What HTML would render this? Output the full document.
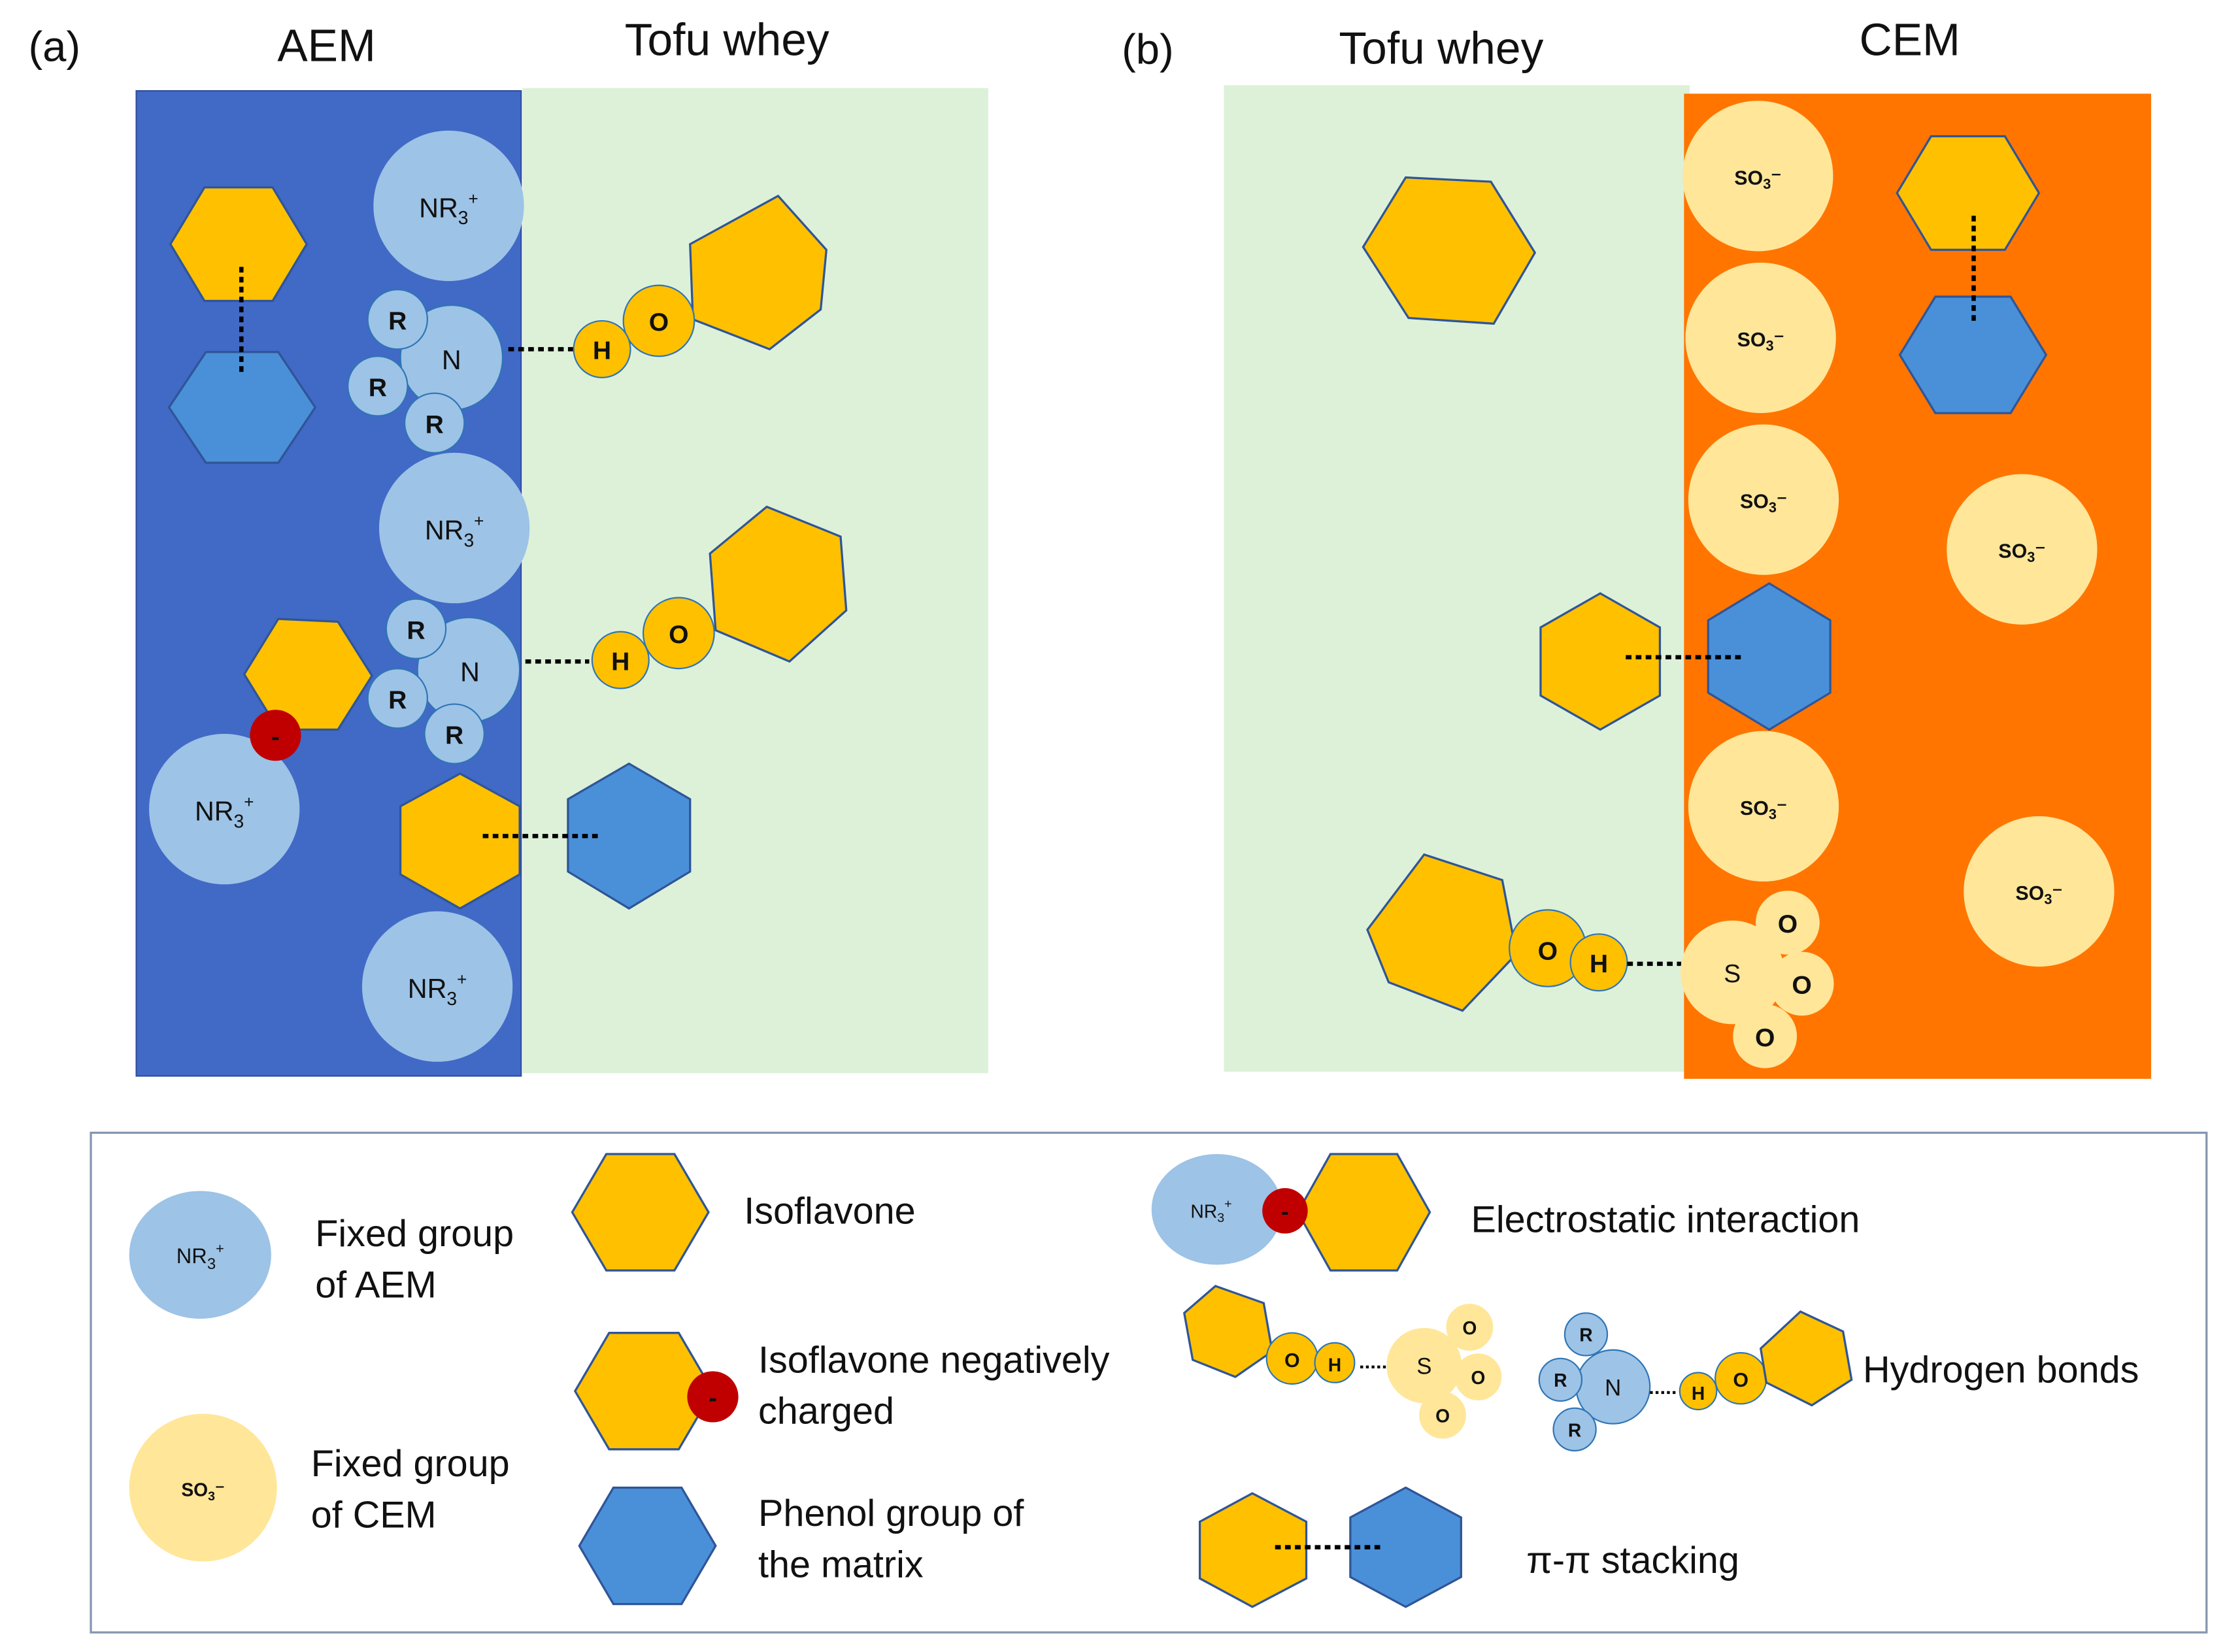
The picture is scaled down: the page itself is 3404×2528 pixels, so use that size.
<!DOCTYPE html>
<html><head><meta charset="utf-8"><style>
html,body{margin:0;padding:0;background:#fff;}
svg{display:block;}
text{font-family:"Liberation Sans",sans-serif;fill:#111;}
.iso{fill:#FFC000;stroke:#2F5597;stroke-width:1.5;}
.phe{fill:#4A90D9;stroke:#2F5597;stroke-width:1.5;}
.nr{fill:#9DC3E6;}
.so{fill:#FFE699;}
.sm{fill:#9DC3E6;stroke:#2E75B6;stroke-width:1;}
.ys{fill:#FFC000;stroke:#2E75B6;stroke-width:1;}
.ss{fill:#FFE699;stroke:#FFE699;stroke-width:1;}
.dot{stroke:#000;stroke-width:3;stroke-dasharray:4,3;fill:none;}
.b{font-weight:bold;}
.lg{font-size:26.5px;}
</style></head><body>
<svg width="3404" height="2528" viewBox="0 0 1567 1163.8" preserveAspectRatio="none" xmlns="http://www.w3.org/2000/svg">
<rect width="1567" height="1163.8" fill="#fff"/>
<!-- titles -->
<text x="20" y="43" font-size="30">(a)</text>
<text x="230" y="43" font-size="32" text-anchor="middle">AEM</text>
<text x="512" y="39" font-size="32" text-anchor="middle">Tofu whey</text>
<text x="790" y="45" font-size="30">(b)</text>
<text x="1015" y="45" font-size="32" text-anchor="middle">Tofu whey</text>
<text x="1345" y="39" font-size="32" text-anchor="middle">CEM</text>

<!-- panel a -->
<rect x="96" y="64" width="271" height="694" fill="#4169C6" stroke="#2F4F9F" stroke-width="1"/>
<rect x="368" y="62" width="328" height="694" fill="#DDF1D9"/>

<polygon class="iso" points="120,172 144,132 192,132 216,172 192,212 144,212"/>
<polygon class="phe" points="119,287 145,248 196,248 222,287 196,326 145,326"/>
<line class="dot" x1="170" y1="188" x2="170" y2="262"/>

<circle class="nr" cx="316" cy="145" r="53"/>
<text x="316" y="153" font-size="19" text-anchor="middle">NR<tspan font-size="13" dy="5">3</tspan><tspan font-size="12" dy="-14">+</tspan></text>
<circle class="nr" cx="320" cy="372" r="53"/>
<text x="320" y="380" font-size="19" text-anchor="middle">NR<tspan font-size="13" dy="5">3</tspan><tspan font-size="12" dy="-14">+</tspan></text>
<circle class="nr" cx="158" cy="570" r="53"/>
<text x="158" y="578" font-size="19" text-anchor="middle">NR<tspan font-size="13" dy="5">3</tspan><tspan font-size="12" dy="-14">+</tspan></text>
<circle class="nr" cx="308" cy="695" r="53"/>
<text x="308" y="703" font-size="19" text-anchor="middle">NR<tspan font-size="13" dy="5">3</tspan><tspan font-size="12" dy="-14">+</tspan></text>

<!-- cluster 1 -->
<ellipse class="sm" cx="318" cy="252" rx="36" ry="37" stroke="none"/>
<circle class="sm" cx="280" cy="225" r="21"/>
<circle class="sm" cx="266" cy="272" r="21"/>
<circle class="sm" cx="306" cy="298" r="21"/>
<text x="318" y="260" font-size="19" text-anchor="middle">N</text>
<text class="b" x="280" y="232" font-size="18" text-anchor="middle">R</text>
<text class="b" x="266" y="279" font-size="18" text-anchor="middle">R</text>
<text class="b" x="306" y="305" font-size="18" text-anchor="middle">R</text>
<line class="dot" x1="358" y1="246" x2="404" y2="246"/>
<polygon class="iso" points="486,172 548,138 582,176 578,218 542,246 488,225"/>
<circle class="ys" cx="464" cy="226" r="25"/>
<circle class="ys" cx="424" cy="246" r="20"/>
<text class="b" x="464" y="233" font-size="18" text-anchor="middle">O</text>
<text class="b" x="424" y="253" font-size="18" text-anchor="middle">H</text>

<!-- cluster 2 -->
<polygon class="iso" points="172,475 196,436 238,438 262,476 238,514 196,514"/>
<circle cx="194" cy="518" r="18" fill="#C00000"/>
<text class="b" x="194" y="525" font-size="18" text-anchor="middle">-</text>
<ellipse class="sm" cx="330" cy="472" rx="36" ry="37" stroke="none"/>
<circle class="sm" cx="293" cy="443" r="21"/>
<circle class="sm" cx="280" cy="492" r="21"/>
<circle class="sm" cx="320" cy="517" r="21"/>
<text x="331" y="480" font-size="19" text-anchor="middle">N</text>
<text class="b" x="293" y="450" font-size="18" text-anchor="middle">R</text>
<text class="b" x="280" y="499" font-size="18" text-anchor="middle">R</text>
<text class="b" x="320" y="524" font-size="18" text-anchor="middle">R</text>
<line class="dot" x1="370" y1="466" x2="415" y2="466"/>
<polygon class="iso" points="500,390 540,357 592,378 596,430 556,466 504,444"/>
<circle class="ys" cx="478" cy="446" r="25"/>
<circle class="ys" cx="437" cy="465" r="20"/>
<text class="b" x="478" y="453" font-size="18" text-anchor="middle">O</text>
<text class="b" x="437" y="472" font-size="18" text-anchor="middle">H</text>

<polygon class="iso" points="324,545 366,568 366,616 324,640 282,616 282,568"/>
<polygon class="phe" points="443,538 486,563 486,614 443,640 400,614 400,563"/>
<line class="dot" x1="340" y1="589" x2="423" y2="589"/>

<!-- panel b -->
<rect x="862" y="60" width="328" height="695" fill="#DDF1D9"/>
<rect x="1186" y="66" width="329" height="694" fill="#FF7500"/>

<polygon class="iso" points="960,174 990,125 1050,128 1081,178 1052,228 992,224"/>

<g font-size="14" class="b" text-anchor="middle">
<circle class="so" cx="1238" cy="124" r="53"/><text x="1238" y="130">SO<tspan font-size="10" dy="3">3</tspan><tspan dy="-3">⁻</tspan></text>
<circle class="so" cx="1240" cy="238" r="53"/><text x="1240" y="244">SO<tspan font-size="10" dy="3">3</tspan><tspan dy="-3">⁻</tspan></text>
<circle class="so" cx="1242" cy="352" r="53"/><text x="1242" y="358">SO<tspan font-size="10" dy="3">3</tspan><tspan dy="-3">⁻</tspan></text>
<circle class="so" cx="1424" cy="387" r="53"/><text x="1424" y="393">SO<tspan font-size="10" dy="3">3</tspan><tspan dy="-3">⁻</tspan></text>
<circle class="so" cx="1242" cy="568" r="53"/><text x="1242" y="574">SO<tspan font-size="10" dy="3">3</tspan><tspan dy="-3">⁻</tspan></text>
<circle class="so" cx="1436" cy="628" r="53"/><text x="1436" y="634">SO<tspan font-size="10" dy="3">3</tspan><tspan dy="-3">⁻</tspan></text>
</g>

<polygon class="iso" points="1336,136 1360,96 1412,96 1436,136 1412,176 1360,176"/>
<polygon class="phe" points="1338,250 1363,209 1416,209 1441,250 1416,291 1363,291"/>
<line class="dot" x1="1390" y1="152" x2="1390" y2="226"/>

<polygon class="iso" points="1127,418 1169,442 1169,490 1127,514 1085,490 1085,442"/>
<polygon class="phe" points="1246,411 1289,437 1289,488 1246,514 1203,488 1203,437"/>
<line class="dot" x1="1145" y1="463" x2="1228" y2="463"/>

<polygon class="iso" points="963,655 1003,602 1058,620 1068,672 1030,712 978,692"/>
<circle class="ys" cx="1090" cy="668" r="27"/>
<circle class="ys" cx="1126" cy="678" r="20"/>
<text class="b" x="1090" y="676" font-size="18" text-anchor="middle">O</text>
<text class="b" x="1126" y="685" font-size="18" text-anchor="middle">H</text>
<line class="dot" x1="1146" y1="679" x2="1184" y2="679"/>
<circle class="ss" cx="1220" cy="685" r="36"/>
<circle class="ss" cx="1259" cy="650" r="22"/>
<circle class="ss" cx="1269" cy="693" r="22"/>
<circle class="ss" cx="1243" cy="730" r="22"/>
<text x="1220" y="692" font-size="18" text-anchor="middle">S</text>
<text class="b" x="1259" y="657" font-size="18" text-anchor="middle">O</text>
<text class="b" x="1269" y="700" font-size="18" text-anchor="middle">O</text>
<text class="b" x="1243" y="737" font-size="18" text-anchor="middle">O</text>

<!-- legend -->
<rect x="64" y="798" width="1490" height="352" fill="#fff" stroke="#8497B0" stroke-width="1.5"/>
<ellipse class="nr" cx="141" cy="884" rx="50" ry="45"/>
<text x="141" y="890" font-size="15" text-anchor="middle">NR<tspan font-size="11" dy="4">3</tspan><tspan font-size="10" dy="-11">+</tspan></text>
<text class="lg" x="222" y="878">Fixed group</text>
<text class="lg" x="222" y="914">of AEM</text>
<circle class="so" cx="143" cy="1048" r="52"/>
<text class="b" x="143" y="1054" font-size="13" text-anchor="middle">SO<tspan font-size="9" dy="3">3</tspan><tspan dy="-3">⁻</tspan></text>
<text class="lg" x="219" y="1040">Fixed group</text>
<text class="lg" x="219" y="1076">of CEM</text>

<polygon class="iso" points="403,854 427,813 475,813 499,854 475,895 427,895"/>
<text class="lg" x="524" y="862">Isoflavone</text>
<polygon class="iso" points="405,980 429,939 478,939 502,980 478,1021 429,1021"/>
<circle cx="502" cy="984" r="18" fill="#C00000"/>
<text class="b" x="502" y="991" font-size="18" text-anchor="middle">-</text>
<text class="lg" x="534" y="967">Isoflavone negatively</text>
<text class="lg" x="534" y="1003">charged</text>
<polygon class="phe" points="408,1089 432,1048 480,1048 504,1089 480,1130 432,1130"/>
<text class="lg" x="534" y="1075">Phenol group of</text>
<text class="lg" x="534" y="1111">the matrix</text>

<ellipse class="nr" cx="857" cy="852" rx="46" ry="39"/>
<text x="853" y="858" font-size="13" text-anchor="middle">NR<tspan font-size="9" dy="3">3</tspan><tspan font-size="9" dy="-10">+</tspan></text>
<polygon class="iso" points="914,854 937,813 984,813 1007,854 984,895 937,895"/>
<circle cx="905" cy="853" r="16" fill="#C00000"/>
<text class="b" x="905" y="859" font-size="16" text-anchor="middle">-</text>
<text class="lg" x="1036" y="868">Electrostatic interaction</text>

<polygon class="iso" points="834,925 856,906 890,918 896,952 870,970 840,958"/>
<circle class="ys" cx="910" cy="957" r="18"/>
<circle class="ys" cx="940" cy="960" r="14"/>
<text class="b" x="910" y="963" font-size="14" text-anchor="middle">O</text>
<text class="b" x="940" y="966" font-size="13" text-anchor="middle">H</text>
<line x1="958" y1="963" x2="976" y2="963" stroke="#000" stroke-width="2" stroke-dasharray="2,2"/>
<circle class="ss" cx="1003" cy="962" r="26"/>
<circle class="ss" cx="1035" cy="935" r="16"/>
<circle class="ss" cx="1041" cy="970" r="16"/>
<circle class="ss" cx="1016" cy="997" r="16"/>
<text x="1003" y="968" font-size="16" text-anchor="middle">S</text>
<text class="b" x="1035" y="940" font-size="13" text-anchor="middle">O</text>
<text class="b" x="1041" y="975" font-size="13" text-anchor="middle">O</text>
<text class="b" x="1016" y="1002" font-size="13" text-anchor="middle">O</text>

<circle class="sm" cx="1136" cy="977" r="26"/>
<circle class="sm" cx="1117" cy="940" r="15"/>
<circle class="sm" cx="1099" cy="972" r="15"/>
<circle class="sm" cx="1109" cy="1007" r="15"/>
<text x="1136" y="983" font-size="16" text-anchor="middle">N</text>
<text class="b" x="1117" y="945" font-size="13" text-anchor="middle">R</text>
<text class="b" x="1099" y="977" font-size="13" text-anchor="middle">R</text>
<text class="b" x="1109" y="1012" font-size="13" text-anchor="middle">R</text>
<line x1="1162" y1="981" x2="1181" y2="981" stroke="#000" stroke-width="2" stroke-dasharray="2,2"/>
<circle class="ys" cx="1226" cy="971" r="18"/>
<circle class="ys" cx="1196" cy="980" r="13"/>
<text class="b" x="1226" y="977" font-size="14" text-anchor="middle">O</text>
<text class="b" x="1196" y="986" font-size="13" text-anchor="middle">H</text>
<polygon class="iso" points="1240,950 1268,924 1298,938 1304,972 1276,990 1244,974"/>
<text class="lg" x="1312" y="974">Hydrogen bonds</text>

<polygon class="iso" points="882,1052 920,1072 920,1112 882,1132 845,1112 845,1072"/>
<polygon class="phe" points="990,1048 1029,1069 1029,1111 990,1132 951,1111 951,1069"/>
<line class="dot" x1="898" y1="1090" x2="972" y2="1090"/>
<text class="lg" x="1075" y="1108">π-π stacking</text>
</svg>
</body></html>
